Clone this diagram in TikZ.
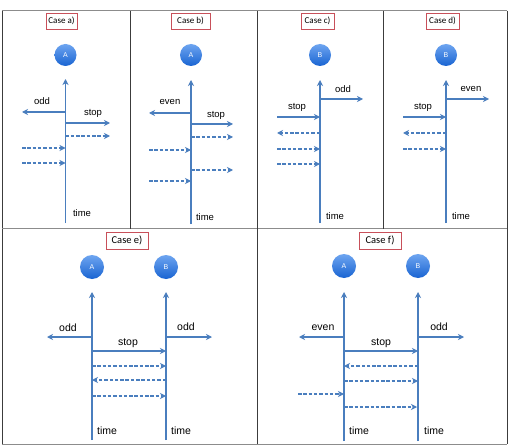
\documentclass[tikz,border=0pt]{standalone}
\usepackage{fontspec}
\setmainfont{Liberation Sans}
\newfontfamily\capfont{Carlito}
\usetikzlibrary{arrows.meta}
\definecolor{sigblue}{RGB}{74,126,190}
\definecolor{capred}{RGB}{200,80,90}
\definecolor{frameh}{RGB}{140,140,140}
\definecolor{framev}{RGB}{60,60,60}
\definecolor{balltop}{RGB}{110,165,240}
\definecolor{ballbot}{RGB}{25,100,210}
\begin{document}
\begin{tikzpicture}[x=1pt,y=-1pt,
  sig/.style={draw=sigblue,line width=1.4pt,-{Stealth[length=6pt,width=6pt,inset=1.8pt]}},
  dsig/.style={sig,dash pattern=on 3.5pt off 1.8pt},
  tline/.style={sig},
  proc/.style={circle,minimum size=22pt,inner sep=0pt,top color=balltop,bottom color=ballbot,draw=none,text=white,font=\fontsize{7}{8}\selectfont},
  procbig/.style={proc,minimum size=24pt},
  caplbl/.style={draw=capred,line width=0.9pt,inner sep=0pt,minimum height=16pt,font=\capfont\fontsize{9}{10}\selectfont},
  lbl/.style={inner sep=0pt,font=\fontsize{9.5}{11}\selectfont},
  lblbig/.style={inner sep=0pt,font=\fontsize{10.5}{12}\selectfont},
  hline/.style={draw=frameh,line width=1pt},
  vline/.style={draw=framev,line width=0.9pt}]
\useasboundingbox (0,0) rectangle (510,446);
\fill[white] (0,0) rectangle (510,446);
% frame
\coordinate (f1) at (2,11); \coordinate (f2) at (507,11);
\coordinate (f3) at (507,444); \coordinate (f4) at (2,444);
\coordinate (m1) at (2,228.5); \coordinate (m2) at (507,228.5);
\draw[vline] (f1) -- (f4);
\draw[vline] (f2) -- (f3);
\draw[hline] (f1) -- (f2);
\draw[hline] (f4) -- (f3);
\draw[hline] (m1) -- (m2);
\coordinate (v1t) at (130,11); \coordinate (v1b) at (130,228.5);
\coordinate (v2t) at (257,11); \coordinate (v2b) at (257,228.5);
\coordinate (v3t) at (383,11); \coordinate (v3b) at (383,228.5);
\coordinate (v4t) at (257.5,228.5); \coordinate (v4b) at (257.5,444);
\draw[vline] (v1t) -- (v1b);
\draw[vline] (v2t) -- (v2b);
\draw[vline] (v3t) -- (v3b);
\draw[vline] (v4t) -- (v4b);

% ---------- Case a ----------
\node[caplbl,minimum width=31pt] (capa) at (61.5,21) {Case a)};
\node[proc] (pa) at (65.5,55) {A};
\coordinate (aB) at (65.5,223); \coordinate (aT) at (65.5,79);
\draw[tline] (aB) -- (aT);
\coordinate (a1) at (65.5,112); \coordinate (a1e) at (22,112);
\coordinate (a2) at (65.5,123); \coordinate (a2e) at (110,123);
\coordinate (a3) at (65.5,136); \coordinate (a3e) at (110,136);
\coordinate (a4) at (65.5,148); \coordinate (a4s) at (22,148);
\coordinate (a5) at (65.5,163); \coordinate (a5s) at (22,163);
\draw[sig] (a1) -- (a1e);
\draw[sig] (a2) -- (a2e);
\draw[dsig] (a3) -- (a3e);
\draw[dsig] (a4s) -- (a4);
\draw[dsig] (a5s) -- (a5);
\node[lbl] (aodd) at (42,101) {odd};
\node[lbl] (astop) at (93,113) {stop};
\node[lbl] (atime) at (82,213) {time};

% ---------- Case b ----------
\node[caplbl,minimum width=39pt] (capb) at (190.5,21) {Case b)};
\node[proc] (pb) at (191,55) {A};
\coordinate (bB) at (191,224); \coordinate (bT) at (191,80);
\draw[tline] (bB) -- (bT);
\coordinate (b1) at (191,113); \coordinate (b1e) at (149,113);
\coordinate (b2) at (191,124); \coordinate (b2e) at (233,124);
\coordinate (b3) at (191,137); \coordinate (b3e) at (233,137);
\coordinate (b4) at (191,150); \coordinate (b4s) at (149,150);
\coordinate (b5) at (191,170); \coordinate (b5e) at (233,170);
\coordinate (b6) at (191,181); \coordinate (b6s) at (149,181);
\draw[sig] (b1) -- (b1e);
\draw[sig] (b2) -- (b2e);
\draw[dsig] (b3) -- (b3e);
\draw[dsig] (b4s) -- (b4);
\draw[dsig] (b5) -- (b5e);
\draw[dsig] (b6s) -- (b6);
\node[lbl] (beven) at (170,102) {even};
\node[lbl] (bstop) at (216,115) {stop};
\node[lbl] (btime) at (205,217) {time};

% ---------- Case c ----------
\node[caplbl,minimum width=33pt] (capc) at (317.5,21) {Case c)};
\node[proc] (pc) at (320,55) {B};
\coordinate (cB) at (320,223); \coordinate (cT) at (320,80);
\draw[tline] (cB) -- (cT);
\coordinate (c1) at (320,99); \coordinate (c1e) at (363,99);
\coordinate (c2) at (320,117); \coordinate (c2s) at (277,117);
\coordinate (c3) at (320,133); \coordinate (c3e) at (277,133);
\coordinate (c4) at (320,149); \coordinate (c4s) at (277,149);
\coordinate (c5) at (320,164); \coordinate (c5s) at (277,164);
\draw[sig] (c1) -- (c1e);
\draw[sig] (c2s) -- (c2);
\draw[dsig] (c3) -- (c3e);
\draw[dsig] (c4s) -- (c4);
\draw[dsig] (c5s) -- (c5);
\node[lbl] (codd) at (343,89) {odd};
\node[lbl] (cstop) at (297,107) {stop};
\node[lbl] (ctime) at (335,216) {time};

% ---------- Case d ----------
\node[caplbl,minimum width=33pt] (capd) at (442.5,21) {Case d)};
\node[proc] (pd) at (446,55) {B};
\coordinate (dB) at (446,223); \coordinate (dT) at (446,80);
\draw[tline] (dB) -- (dT);
\coordinate (d1) at (446,99); \coordinate (d1e) at (489,99);
\coordinate (d2) at (446,117); \coordinate (d2s) at (403,117);
\coordinate (d3) at (446,133); \coordinate (d3e) at (403,133);
\coordinate (d4) at (446,149); \coordinate (d4s) at (403,149);
\draw[sig] (d1) -- (d1e);
\draw[sig] (d2s) -- (d2);
\draw[dsig] (d3) -- (d3e);
\draw[dsig] (d4s) -- (d4);
\node[lbl] (deven) at (471,89) {even};
\node[lbl] (dstop) at (423,107) {stop};
\node[lbl] (dtime) at (461,216) {time};

% ---------- Case e ----------
\node[caplbl,minimum width=42pt,minimum height=17pt,font=\capfont\fontsize{10.5}{12}\selectfont] (cape) at (127,240.5) {Case e)};
\node[procbig] (peA) at (92,267) {A};
\node[procbig] (peB) at (166,267) {B};
\coordinate (eAB) at (92,440); \coordinate (eAT) at (92,292);
\coordinate (eBB) at (166,440); \coordinate (eBT) at (166,292);
\draw[tline] (eAB) -- (eAT);
\draw[tline] (eBB) -- (eBT);
\coordinate (eA1) at (92,337); \coordinate (eA1e) at (47,337);
\coordinate (eB1) at (166,337); \coordinate (eB1e) at (212,337);
\coordinate (eA2) at (92,351); \coordinate (eB2) at (166,351);
\coordinate (eA3) at (92,366); \coordinate (eB3) at (166,366);
\coordinate (eA4) at (92,380); \coordinate (eB4) at (166,380);
\coordinate (eA5) at (92,396); \coordinate (eB5) at (166,396);
\draw[sig] (eA1) -- (eA1e);
\draw[sig] (eB1) -- (eB1e);
\draw[sig] (eA2) -- (eB2);
\draw[dsig] (eA3) -- (eB3);
\draw[dsig] (eB4) -- (eA4);
\draw[dsig] (eA5) -- (eB5);
\node[lblbig] (eodd1) at (68,328) {odd};
\node[lblbig] (eodd2) at (186,327) {odd};
\node[lblbig] (estop) at (128,343) {stop};
\node[lblbig] (etime1) at (107,431) {time};
\node[lblbig] (etime2) at (181,431) {time};

% ---------- Case f ----------
\node[caplbl,minimum width=42pt,minimum height=17pt,font=\capfont\fontsize{10.5}{12}\selectfont] (capf) at (380,240.5) {Case f)};
\node[procbig] (pfA) at (344,266) {A};
\node[procbig] (pfB) at (418,266) {B};
\coordinate (fAB) at (344,441); \coordinate (fAT) at (344,292);
\coordinate (fBB) at (418,441); \coordinate (fBT) at (418,292);
\draw[tline] (fAB) -- (fAT);
\draw[tline] (fBB) -- (fBT);
\coordinate (fA1) at (344,337); \coordinate (fA1e) at (299,337);
\coordinate (fB1) at (418,337); \coordinate (fB1e) at (464,337);
\coordinate (fA2) at (344,351); \coordinate (fB2) at (418,351);
\coordinate (fA3) at (344,366); \coordinate (fB3) at (418,366);
\coordinate (fA4) at (344,381); \coordinate (fB4) at (418,381);
\coordinate (fA5) at (344,394); \coordinate (fA5s) at (298,394);
\coordinate (fA6) at (344,407); \coordinate (fB6) at (417,407);
\draw[sig] (fA1) -- (fA1e);
\draw[sig] (fB1) -- (fB1e);
\draw[sig] (fA2) -- (fB2);
\draw[dsig] (fB3) -- (fA3);
\draw[dsig] (fA4) -- (fB4);
\draw[dsig] (fA5s) -- (fA5);
\draw[dsig] (fA6) -- (fB6);
\node[lblbig] (feven) at (323,328) {even};
\node[lblbig] (fodd) at (439,327) {odd};
\node[lblbig] (fstop) at (381,343) {stop};
\node[lblbig] (ftime1) at (359,431) {time};
\node[lblbig] (ftime2) at (434,431) {time};
\end{tikzpicture}
\end{document}
